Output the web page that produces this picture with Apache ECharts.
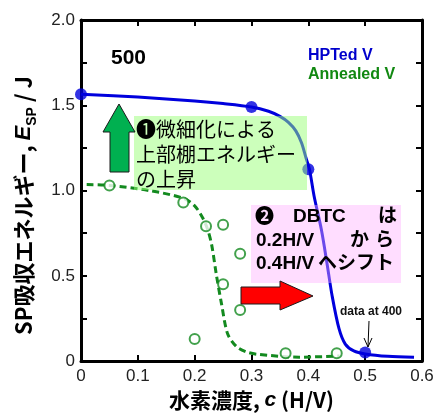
<!DOCTYPE html>
<html>
<head>
<meta charset="utf-8">
<script src="https://cdn.jsdelivr.net/npm/echarts@6/dist/echarts.min.js"></script>
<style>html,body{margin:0;padding:0;background:#fff;}#c{width:437px;height:416px;}</style>
</head>
<body>
<div id="c"></div>
<script>
// ---- data ----
const xTickValues = [0, 0.1, 0.2, 0.3, 0.4, 0.5, 0.6];
const yTickLabels = ['0', '0.5', '1.0', '1.5', '2.0'];

// HPTed V measured points
const hptX = [0, 0.3, 0.4, 0.5];
const hptY = [1.565, 1.49, 1.125, 0.05];
// HPTed V fitted curve
const hptCurveX = [0, 0.1, 0.2, 0.25, 0.3, 0.33, 0.35, 0.365, 0.378, 0.388, 0.396, 0.402, 0.41, 0.423, 0.433, 0.442, 0.454, 0.465, 0.48, 0.5, 0.54, 0.586];
const hptCurveY = [1.565, 1.548, 1.525, 1.51, 1.49, 1.465, 1.435, 1.40, 1.35, 1.28, 1.19, 1.125, 0.97, 0.77, 0.57, 0.38, 0.19, 0.10, 0.06, 0.042, 0.028, 0.023];

// Annealed V measured points
const annX = [0.05, 0.18, 0.2, 0.22, 0.25, 0.25, 0.28, 0.28, 0.36, 0.45];
const annY = [1.03, 0.93, 0.13, 0.79, 0.80, 0.45, 0.63, 0.30, 0.046, 0.046];
// Annealed V fitted curve
const annCurveX = [0.01, 0.05, 0.12, 0.18, 0.2, 0.214, 0.223, 0.23, 0.238, 0.247, 0.258, 0.273, 0.29, 0.31, 0.384, 0.455];
const annCurveY = [1.035, 1.03, 1.0, 0.955, 0.91, 0.84, 0.77, 0.68, 0.51, 0.34, 0.16, 0.087, 0.055, 0.04, 0.023, 0.03];

const zip = (a, b) => a.map((v, i) => [v, b[i]]);

const BLUE = '#0000dd';
const GREEN = '#138a1f';
const FONT = '"Liberation Sans", Arial, "Noto Sans CJK JP", sans-serif';
const CJK = '"Noto Sans CJK JP", "Liberation Sans", sans-serif';

const chart = echarts.init(document.getElementById('c'), null, {renderer: 'canvas'});

const fmtX = v => (Math.abs(v) < 1e-9 ? '0' : v.toFixed(1));
const fmtY = v => {
  const k = Math.round(v * 100);
  if (k % 50 !== 0) return '';
  return yTickLabels[k / 50];
};

const axisLineStyle = {show: true, onZero: false, lineStyle: {color: '#000', width: 3}};
const tickStyle = {show: true, inside: true, length: 6, lineStyle: {color: '#000', width: 2}};

const option = {
  animation: false,
  backgroundColor: '#fff',
  grid: {left: 81, right: 15, top: 20, bottom: 51, containLabel: false},
  xAxis: [{
    type: 'value', min: 0, max: 0.6, interval: 0.1, position: 'bottom',
    axisLine: axisLineStyle, axisTick: tickStyle, splitLine: {show: false},
    axisLabel: {formatter: fmtX, color: '#222', fontSize: 17, fontFamily: FONT, margin: 7},
    name: '{b|水素濃度, }{i|c}{b| (H/V)}', nameLocation: 'middle', nameGap: 27,
    nameTextStyle: {
      verticalAlign: 'top',
      rich: {
        b: {fontSize: 21, fontWeight: 'bold', fontFamily: CJK, color: '#000'},
        i: {fontSize: 21, fontWeight: 'bold', fontStyle: 'italic', fontFamily: FONT, color: '#000'}
      }
    }
  }, {
    type: 'value', min: 0, max: 0.6, interval: 0.1, position: 'top',
    axisLine: axisLineStyle, axisTick: tickStyle, splitLine: {show: false},
    axisLabel: {show: false}
  }],
  yAxis: [{
    type: 'value', min: 0, max: 2, interval: 0.25, position: 'left',
    axisLine: axisLineStyle, axisTick: tickStyle, splitLine: {show: false},
    axisLabel: {formatter: fmtY, color: '#222', fontSize: 17, fontFamily: FONT, margin: 6},
    name: '{b|SP吸収エネルギー, }{i|E}{s|SP}{b| / J}', nameLocation: 'middle', nameGap: 42,
    nameRotate: 90,
    nameTextStyle: {
      padding: [0, 30, 0, 0],
      rich: {
        b: {fontSize: 22, fontWeight: 'bold', fontFamily: CJK, color: '#000', lineHeight: 30},
        i: {fontSize: 22, fontWeight: 'bold', fontStyle: 'italic', fontFamily: FONT, color: '#000', lineHeight: 30},
        s: {fontSize: 14, fontWeight: 'bold', fontFamily: FONT, color: '#000', lineHeight: 14, verticalAlign: 'bottom'}
      }
    }
  }, {
    type: 'value', min: 0, max: 2, interval: 0.25, position: 'right',
    axisLine: axisLineStyle, axisTick: tickStyle, splitLine: {show: false},
    axisLabel: {show: false}
  }],
  series: [
    {
      name: 'HPTed curve', type: 'line', data: zip(hptCurveX, hptCurveY),
      smooth: 0.3, showSymbol: false, symbol: 'none',
      lineStyle: {color: BLUE, width: 3}, z: 2
    },
    {
      name: 'Annealed curve', type: 'line', data: zip(annCurveX, annCurveY),
      smooth: 0.3, showSymbol: false, symbol: 'none',
      lineStyle: {color: GREEN, width: 3, type: [7, 4]}, z: 2
    },
    {
      name: 'HPTed V', type: 'scatter', data: zip(hptX, hptY),
      symbol: 'circle', symbolSize: 12, itemStyle: {color: BLUE}, z: 4
    },
    {
      name: 'Annealed V', type: 'scatter', data: zip(annX, annY),
      symbol: 'circle', symbolSize: 10,
      itemStyle: {color: '#fff', borderColor: GREEN, borderWidth: 2}, z: 4
    }
  ],
  graphic: [
    // "500"
    {type: 'text', z: 20, left: 111, top: 48, style: {text: '500', font: 'bold 21px ' + FONT, fill: '#000'}},
    // legend-like labels
    {type: 'text', z: 20, left: 308, top: 48, style: {text: 'HPTed V', font: 'bold 16px ' + FONT, fill: '#0000cc'}},
    {type: 'text', z: 20, left: 308, top: 67, style: {text: 'Annealed V', font: 'bold 16px ' + FONT, fill: '#118811'}},
    // green annotation box
    {type: 'rect', z: 10, shape: {x: 134, y: 116, width: 173, height: 74}, style: {fill: 'rgba(153,255,119,0.5)'}},
    {type: 'text', z: 20, left: 136, top: 117, style: {text: '❶微細化による\n上部棚エネルギー\nの上昇', font: '20px ' + CJK, fill: '#000', lineHeight: 25}},
    // green up arrow
    {type: 'polygon', z: 20, shape: {points: [[119, 104], [135, 132], [129, 132], [129, 172], [110, 172], [110, 132], [103, 132]]},
      style: {fill: '#00b050', stroke: '#1a1a1a', lineWidth: 1}},
    // pink annotation box
    {type: 'rect', z: 10, shape: {x: 251, y: 205, width: 150, height: 78}, style: {fill: 'rgba(255,175,255,0.42)'}},
    {type: 'text', z: 20, left: 255, top: 206, style: {text: '❷', font: 'bold 19px ' + CJK, fill: '#000'}},
    {type: 'text', z: 20, left: 293, top: 207, style: {text: 'DBTC', font: 'bold 19px ' + FONT, fill: '#000'}},
    {type: 'text', z: 20, left: 378, top: 205, style: {text: 'は', font: 'bold 19px ' + CJK, fill: '#000'}},
    {type: 'text', z: 20, left: 256, top: 231, style: {text: '0.2H/V', font: 'bold 19px ' + FONT, fill: '#000'}},
    {type: 'text', z: 20, left: 350, top: 229, style: {text: 'か', font: 'bold 19px ' + CJK, fill: '#000'}},
    {type: 'text', z: 20, left: 375, top: 229, style: {text: 'ら', font: 'bold 19px ' + CJK, fill: '#000'}},
    {type: 'text', z: 20, left: 256, top: 254, style: {text: '0.4H/V', font: 'bold 19px ' + FONT, fill: '#000'}},
    {type: 'text', z: 20, left: 318, top: 252, style: {text: 'ヘシフト', font: 'bold 19px ' + CJK, fill: '#000'}},
    // red right arrow
    {type: 'polygon', z: 20, shape: {points: [[241, 287], [280, 287], [280, 281], [313, 296], [280, 310], [280, 304], [241, 304]]},
      style: {fill: '#ff0000', stroke: '#1a1a1a', lineWidth: 1}},
    // "data at 400" note with arrow
    {type: 'text', z: 20, left: 340, top: 306, style: {text: 'data at 400', font: 'bold 12px ' + FONT, fill: '#111'}},
    {type: 'line', z: 20, shape: {x1: 369, y1: 321, x2: 368, y2: 347}, style: {stroke: '#000', lineWidth: 1}},
    {type: 'polyline', z: 20, shape: {points: [[364, 338], [368, 347], [372, 338]]}, style: {stroke: '#000', lineWidth: 1, fill: null}}
  ]
};

chart.setOption(option);
</script>
</body>
</html>
